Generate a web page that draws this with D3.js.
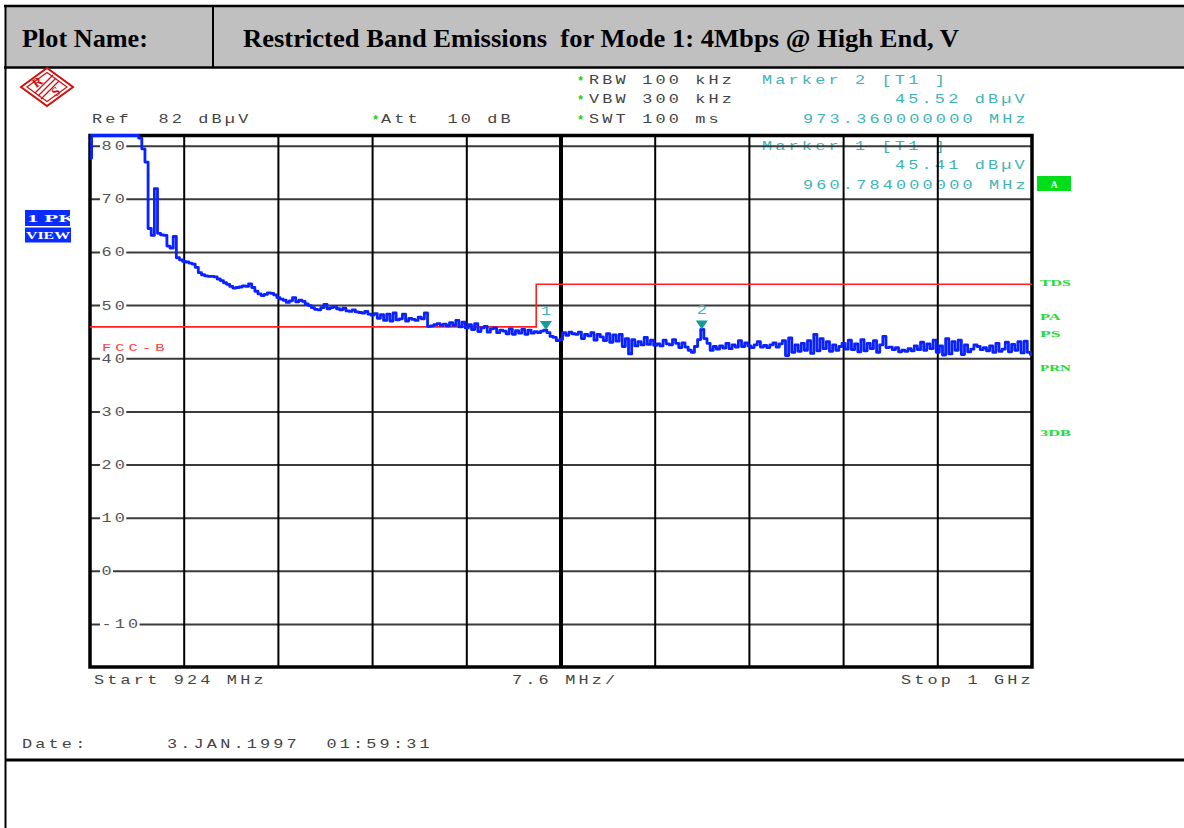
<!DOCTYPE html>
<html><head><meta charset="utf-8">
<script src="https://cdn.jsdelivr.net/npm/d3@7"></script>
<style>body{margin:0;background:#fff}svg{display:block}</style>
</head><body>
<svg id="c" width="1184" height="828"></svg>
<script>
// ---------- data ----------
const startMHz = 924, stopMHz = 1000;
const refLevel = 82, bottomLevel = -18;
const yTicks = [80, 70, 60, 50, 40, 30, 20, 10, 0, -10];
const divisions = 10;
const titleLabel = "Plot Name:";
const titleText = "Restricted Band Emissions  for Mode 1: 4Mbps @ High End, V";
// peak trace, evenly spaced from 924 to 1000 MHz (dBµV)
const traceLevels = [
 77.7, 82, 82, 82, 82, 82, 82, 82, 82, 82,
 82, 82, 82, 82, 82, 82, 81.5, 79.5, 77, 64.5,
 63.2, 72, 63.6, 63.3, 63.2, 61.2, 60.8, 63, 59, 58.6,
 58.3, 58.2, 58, 57.8, 57.2, 56.2, 55.8, 55.6, 55.5, 55.5,
 55.4, 55, 54.7, 54.3, 54, 53.6, 53.3, 53.4, 53.5, 53.7,
 53.6, 54.1, 53.4, 52.7, 52.2, 51.9, 52.1, 52.4, 52.3, 52,
 51.5, 51.2, 51, 50.6, 50.9, 51.5, 50.7, 51, 50.8, 50.3,
 50, 49.6, 49.3, 49.2, 49.6, 50.2, 49.4, 49.6, 49.8, 49.4,
 49.2, 49.5, 49, 48.9, 49.2, 48.8, 48.7, 48.6, 48.9, 48.4,
 48.2, 48.5, 47.6, 48.3, 47.2, 48.4, 47.1, 48.6, 47.3, 47.5,
 48.4, 47.1, 47.6, 47.4, 47.2, 47.8, 47.5, 48.6, 46.1, 46.2,
 46.4, 46.6, 46.3, 46.5, 46.2, 46.8, 46.3, 47.2, 46, 46.9,
 45.8, 46.4, 45.5, 46.6, 45.1, 45.8, 46.1, 45, 45.6, 45.8,
 44.9, 45.4, 45.2, 44.7, 45.6, 44.6, 45.3, 44.8, 45.5, 44.6,
 45.4, 44.8, 45.1, 44.9, 45.2, 45.4, 44.9, 44.2, 44, 43.4,
 43.6, 44.9, 44.4, 45, 44.7, 44.6, 45, 43.8, 44.6, 44.3,
 44.9, 43.5, 44.6, 44.1, 43.4, 44.7, 43.1, 44.5, 43.3, 44.6,
 42.3, 43.8, 40.9, 43.6, 42.4, 43.2, 42.6, 44, 42.7, 43.5,
 42.5, 42.8, 42.4, 43.5, 42.8, 42.6, 43.6, 42.9, 42.1, 43,
 42.2, 41.6, 41.2, 42.3, 43.6, 45.5, 43.8, 42.9, 41.6, 42.3,
 41.8, 42.4, 42, 42.9, 41.9, 42.6, 42.2, 43.4, 42.3, 43,
 42.4, 42.1, 42.6, 43.2, 42.2, 42.5, 42.1, 42.6, 43, 42.2,
 42.8, 43.4, 40.6, 43.9, 41.2, 42.6, 41.4, 42.9, 41.6, 43.4,
 41, 44.6, 41.5, 43.8, 41.9, 43.2, 41.4, 42.6, 41.6, 42.3,
 42.9, 41.8, 43.5, 41.7, 42.8, 41.3, 43.6, 41.5, 42.9, 41.9,
 43.4, 41.2, 42.6, 44.2, 42.1, 42.2, 41.7, 42.1, 41.3, 41.6,
 41.4, 41.9, 41.5, 42.4, 41.7, 43.1, 41.6, 42.8, 41.9, 43.5,
 41.2, 42.4, 40.7, 43.8, 40.9, 43.2, 41.6, 43.5, 40.8, 42.6,
 41.3, 41.8, 42.6, 42.3, 41.7, 42.1, 41.5, 42.4, 41.2, 42.9,
 41.4, 41.8, 43.1, 41.3, 42.7, 41.6, 43.2, 41.1, 43.3, 41.2, 40.8
];
const limitFreqs = [924, 960, 960, 1000];
const limitLevels = [46, 46, 54, 54];
const limitName = "FCC-B";
const markerIds = ["1", "2"];
const markerFreqs = [960.784, 973.36];
const markerLevels = [45.41, 45.52];
const rightLabels = ["TDS", "PA", "PS", "PRN", "3DB"];
const rightLabelLevels = [54.2, 47.8, 44.7, 38.2, 26];

// ---------- layout ----------
const svg = d3.select("#c");
const L = 90, R = 1032, T = 135.5, B = 667;
const x = d3.scaleLinear().domain([startMHz, stopMHz]).range([L, R]);
const y = d3.scaleLinear().domain([bottomLevel, refLevel]).range([B, T]);
const MONO = "'Liberation Mono','DejaVu Sans Mono',monospace";
const SERIF = "'Liberation Serif','DejaVu Serif',serif";
const SX = 1.35; // horizontal stretch of the analyzer font

function mono(parent, xp, yp, s, color, size = 12.5, adv = 13.3) {
  const natural = size * 0.6;
  return parent.append("text").attr("transform", `translate(${xp},${yp}) scale(${SX},1)`)
    .text(s).attr("font-family", MONO).attr("font-size", size)
    .attr("letter-spacing", adv / SX - natural).attr("fill", color)
    .style("white-space", "pre");
}
function star(xp, yp) {
  svg.append("text").attr("x", xp).attr("y", yp + 1).text("*")
    .attr("font-family", MONO).attr("font-size", 12).attr("font-weight", "bold")
    .attr("fill", "#22cc22");
}

// ---------- header ----------
svg.append("rect").attr("x", 5).attr("y", 6).attr("width", 1179).attr("height", 61).attr("fill", "#c0c0c0");
svg.append("line").attr("x1", 4).attr("x2", 1184).attr("y1", 6).attr("y2", 6).attr("stroke", "#000").attr("stroke-width", 2.5);
svg.append("line").attr("x1", 4).attr("x2", 1184).attr("y1", 67.5).attr("y2", 67.5).attr("stroke", "#000").attr("stroke-width", 2.5);
svg.append("line").attr("x1", 5.5).attr("x2", 5.5).attr("y1", 5).attr("y2", 828).attr("stroke", "#000").attr("stroke-width", 2);
svg.append("line").attr("x1", 213).attr("x2", 213).attr("y1", 6).attr("y2", 67).attr("stroke", "#000").attr("stroke-width", 2);
svg.append("text").attr("x", 22).attr("y", 47).text(titleLabel)
  .attr("font-family", SERIF).attr("font-weight", "bold").attr("font-size", 26)
  .attr("textLength", 126).attr("lengthAdjust", "spacingAndGlyphs").attr("fill", "#000");
svg.append("text").attr("x", 243).attr("y", 47).text(titleText).style("white-space", "pre")
  .attr("font-family", SERIF).attr("font-weight", "bold").attr("font-size", 26)
  .attr("textLength", 716).attr("lengthAdjust", "spacingAndGlyphs").attr("fill", "#000");
svg.append("line").attr("x1", 5).attr("x2", 1184).attr("y1", 760).attr("y2", 760).attr("stroke", "#000").attr("stroke-width", 3);

// ---------- R&S logo ----------
const lg = svg.append("g").attr("transform", "translate(47,87)");
lg.append("path").attr("d", "M-26,0 L0,-19 L26,0 L0,19 Z").attr("fill", "none").attr("stroke", "#d01010").attr("stroke-width", 2);
lg.append("path").attr("d", "M-20,0 L0,-14.5 L20,0 L0,14.5 Z").attr("fill", "none").attr("stroke", "#d01010").attr("stroke-width", 1.2);
[-3, 0, 3].forEach(o => lg.append("line").attr("x1", 9 + o).attr("y1", -9 + o).attr("x2", -9 + o).attr("y2", 9 + o)
  .attr("stroke", "#d01010").attr("stroke-width", 1.2));
lg.append("text").attr("x", -9).attr("y", -1).text("R").attr("font-family", SERIF).attr("font-weight", "bold")
  .attr("font-size", 13).attr("fill", "#d01010").attr("text-anchor", "middle").attr("transform", "rotate(-35,-9,-4)");
lg.append("text").attr("x", 9).attr("y", 9).text("S").attr("font-family", SERIF).attr("font-weight", "bold")
  .attr("font-size", 13).attr("fill", "#d01010").attr("text-anchor", "middle").attr("transform", "rotate(-35,9,5)");

// ---------- settings text ----------
const GRAY = "#444", TEAL = "#40b4b4";
mono(svg, 92, 123, "Ref  82 dB\u00b5V", GRAY);
star(372, 123); mono(svg, 381, 123, "Att  10 dB", GRAY);
star(577, 84); mono(svg, 589, 84, "RBW 100 kHz", GRAY);
star(577, 103); mono(svg, 589, 103, "VBW 300 kHz", GRAY);
star(577, 123); mono(svg, 589, 123, "SWT 100 ms", GRAY);
mono(svg, 762, 84, "Marker 2 [T1 ]", TEAL);
mono(svg, 895, 103, "45.52 dB\u00b5V", TEAL);
mono(svg, 803, 123, "973.360000000 MHz", TEAL);

// marker 1 readout sits inside the graticule (grid drawn over it)
mono(svg, 762, 150, "Marker 1 [T1 ]", TEAL);
mono(svg, 895, 169, "45.41 dB\u00b5V", TEAL);
mono(svg, 803, 188.5, "960.784000000 MHz", TEAL);

// ---------- grid ----------
const grid = svg.append("g");
const vFreqs = d3.range(1, divisions).map(k => startMHz + k * (stopMHz - startMHz) / divisions);
grid.selectAll("line.h").data(yTicks).join("line")
  .attr("x1", L).attr("x2", R).attr("y1", d => y(d)).attr("y2", d => y(d))
  .attr("stroke", "#3a3a3a").attr("stroke-width", 2);
grid.selectAll("line.v").data(vFreqs).join("line")
  .attr("x1", d => x(d)).attr("x2", d => x(d)).attr("y1", T).attr("y2", B)
  .attr("stroke", "#000").attr("stroke-width", (d, i) => i === 4 ? 4 : 2);
// y tick labels with white gaps
yTicks.forEach(v => {
  const s = v < 0 ? "-" + Math.abs(v) : String(v);
  const w = (s.length - 1) * 13.3 + 10;
  grid.append("rect").attr("x", 100).attr("y", y(v) - 3).attr("width", w + 3).attr("height", 6).attr("fill", "#fff");
  mono(grid, 101.5, y(v) + 4, s, "#555");
});

// frame
svg.append("rect").attr("x", L).attr("y", T).attr("width", R - L).attr("height", B - T)
  .attr("fill", "none").attr("stroke", "#000").attr("stroke-width", 3.5);

// ---------- limit line ----------
const limitData = limitFreqs.map((f, i) => [f, limitLevels[i]]);
svg.append("path").datum(limitData)
  .attr("d", d3.line().x(d => x(d[0])).y(d => y(d[1])))
  .attr("fill", "none").attr("stroke", "#ff2020").attr("stroke-width", 1.6);
mono(svg, 102, 351, limitName, "#ff4040", 11.5);

// ---------- trace ----------
const N = traceLevels.length;
const traceData = traceLevels.map((v, i) => [startMHz + i * (stopMHz - startMHz) / (N - 1), v]);
svg.append("path").datum(traceData)
  .attr("d", d3.line().x(d => x(d[0])).y(d => y(d[1])).curve(d3.curveStep))
  .attr("fill", "none").attr("stroke", "#0a22ff").attr("stroke-width", 2.8).attr("stroke-linejoin", "round");

// ---------- markers ----------
markerIds.forEach((id, i) => {
  const mx = x(markerFreqs[i]), my = y(markerLevels[i]);
  svg.append("path").attr("d", `M${mx - 6},${my - 9} L${mx + 6},${my - 9} L${mx},${my} Z`).attr("fill", "#139c9c");
  mono(svg, mx - 5, my - 15, id, TEAL);
});

// ---------- side labels ----------
svg.append("rect").attr("x", 1037).attr("y", 176).attr("width", 34).attr("height", 15).attr("fill", "#00dd1a");
svg.append("text").attr("x", 1054).attr("y", 187.5).text("A").attr("text-anchor", "middle")
  .attr("font-family", SERIF).attr("font-weight", "bold").attr("font-size", 10).attr("fill", "#fff");
svg.append("rect").attr("x", 25).attr("y", 210).attr("width", 45).attr("height", 16).attr("fill", "#0a2cff");
svg.append("rect").attr("x", 25).attr("y", 227.5).attr("width", 46).attr("height", 15).attr("fill", "#0a2cff");
const clip = svg.append("clipPath").attr("id", "pkclip");
clip.append("rect").attr("x", 25).attr("y", 210).attr("width", 45).attr("height", 16);
svg.append("text").attr("x", 27).attr("y", 222).text("1 PK").style("white-space", "pre")
  .attr("clip-path", "url(#pkclip)")
  .attr("font-family", SERIF).attr("font-weight", "bold").attr("font-size", 11)
  .attr("textLength", 49).attr("lengthAdjust", "spacingAndGlyphs").attr("fill", "#fff");
svg.append("text").attr("x", 26).attr("y", 239).text("VIEW")
  .attr("font-family", SERIF).attr("font-weight", "bold").attr("font-size", 11)
  .attr("textLength", 44).attr("lengthAdjust", "spacingAndGlyphs").attr("fill", "#fff");
rightLabels.forEach((s, i) => {
  svg.append("text").attr("x", 1040).attr("y", y(rightLabelLevels[i]) + 3).text(s)
    .attr("font-family", SERIF).attr("font-weight", "bold").attr("font-size", 9)
    .attr("textLength", s.length * 10.3).attr("lengthAdjust", "spacingAndGlyphs").attr("fill", "#22dd33");
});

// ---------- bottom annotations ----------
mono(svg, 94, 684, "Start 924 MHz", GRAY);
mono(svg, 512, 684, "7.6 MHz/", GRAY);
mono(svg, 901, 684, "Stop 1 GHz", GRAY);
mono(svg, 22, 748, "Date:", GRAY);
mono(svg, 167, 748, "3.JAN.1997  01:59:31", GRAY);
</script>
</body></html>
